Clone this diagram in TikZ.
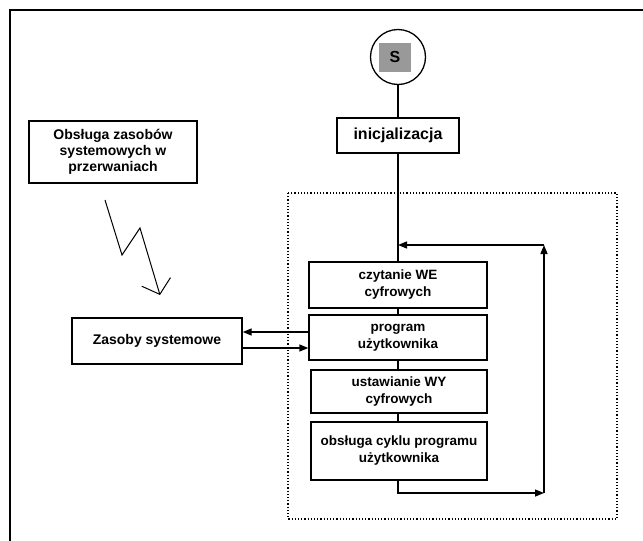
\documentclass[tikz,border=0pt]{standalone}
\usepackage{fontspec}
\setmainfont{Liberation Sans}
\usetikzlibrary{arrows.meta}
\begin{document}
\begin{tikzpicture}[x=1pt,y=-1pt,
  box/.style={draw, line width=1.4pt, align=center, inner sep=0pt,
    font=\bfseries\fontsize{13.5}{17}\selectfont},
  conn/.style={line width=1.4pt},
  arr/.style={line width=1.4pt, -{Triangle[length=9pt,width=7pt]}},
  frame/.style={line width=2.2pt},
  dotbox/.style={line width=1.2pt, dotted}]
\useasboundingbox (0,0) rectangle (643,541);
% outer frame (only the top and left edges are visible)
\draw[frame] (10,541) -- (10,10) -- (643,10);
% dotted region
\draw[dotbox] (288,193) rectangle (617,519);
% start
\node[circle, draw, line width=1.3pt, minimum size=55pt, inner sep=0pt] (start) at (398,57) {};
\node[fill=black!40, minimum width=32pt, minimum height=29pt, inner sep=0pt,
  font=\bfseries\fontsize{16}{18}\selectfont] (slabel) at (395,57) {S};
\node[box, minimum width=122pt, minimum height=35pt,
  font=\bfseries\fontsize{16}{18}\selectfont] (init) at (398,135.5) {inicjalizacja};
% loop boxes
\node[box, minimum width=178pt, minimum height=46pt] (b1) at (398,285) {czytanie WE\\cyfrowych};
\node[box, minimum width=178pt, minimum height=45pt] (b2) at (398,337.5) {program\\użytkownika};
\node[box, minimum width=176pt, minimum height=43pt] (b3) at (399,391.5) {ustawianie WY\\cyfrowych};
\node[box, minimum width=176pt, minimum height=58pt] (b4) at (399,451) {obsługa cyklu programu\\użytkownika};
% left boxes
\node[box, minimum width=170pt, minimum height=46pt, font=\bfseries\fontsize{14}{17}\selectfont] (zas) at (157,341) {Zasoby systemowe};
\node[box, minimum width=168pt, minimum height=62pt, font=\bfseries\fontsize{14}{16}\selectfont] (obs) at (113,152) {Obsługa zasobów\\systemowych w\\przerwaniach};
% connectors
\draw[conn] (start) -- (init);
\draw[conn] (init) -- (b1);
\draw[conn] (b1) -- (b2);
\draw[conn] (b2) -- (b3.north -| b2.south);
\draw[conn] (b3.south -| b2.south) -- (b4.north -| b2.south);
\coordinate (jt) at (398,245);
\coordinate (jr) at (544,245);
\coordinate (br) at (544,493);
\coordinate (bl) at (398,493);
\draw[arr] (b4.south -| bl) -- (bl) -- (br);
\draw[arr] (br) -- (jr);
\draw[arr] (jr) -- (jt);
\draw[arr] ([yshift=5.5pt]b2.west) -- ([yshift=5.5pt]b2.west -| zas.east);
\draw[arr] ([yshift=-10.5pt]b2.west -| zas.east) -- ([yshift=-10.5pt]b2.west);
% lightning from the interrupt box to the system resources
\coordinate (l0) at (105,200);
\coordinate (l1) at (122,255);
\coordinate (l2) at (140,228);
\coordinate (l3) at (160,295);
\draw[line width=1pt, -{Straight Barb[length=13pt,width=30pt]}] (l0) -- (l1) -- (l2) -- (l3);
\end{tikzpicture}
\end{document}
